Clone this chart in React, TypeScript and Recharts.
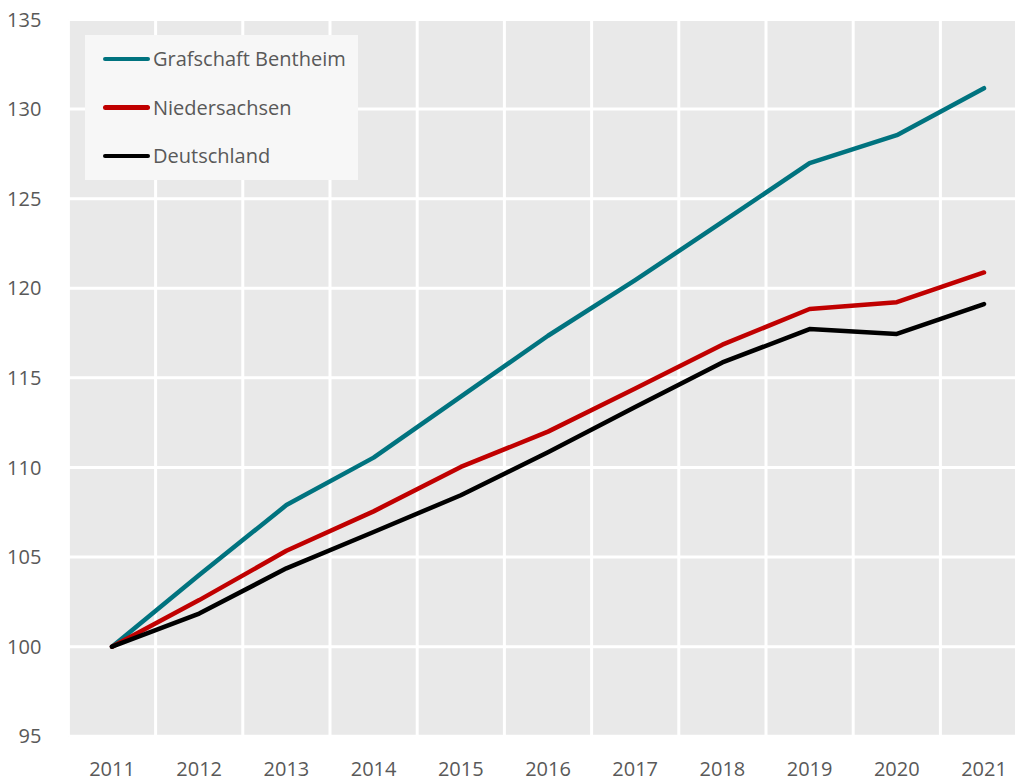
import React from "react";
import { LineChart, Line, XAxis, YAxis, CartesianGrid, Legend } from "recharts";

const years = [2011, 2012, 2013, 2014, 2015, 2016, 2017, 2018, 2019, 2020, 2021];
const grafschaftBentheim = [100, 104.0, 107.9, 110.55, 113.95, 117.35, 120.45, 123.7, 126.98, 128.54, 131.16];
const niedersachsen = [100, 102.6, 105.35, 107.55, 110.03, 112.0, 114.4, 116.85, 118.84, 119.22, 120.88];
const deutschland = [100, 101.85, 104.37, 106.4, 108.45, 110.85, 113.38, 115.86, 117.72, 117.45, 119.12];
const yTicks = [95, 100, 105, 110, 115, 120, 125, 130, 135];
const gridBoundaries = [2010.5, 2011.5, 2012.5, 2013.5, 2014.5, 2015.5, 2016.5, 2017.5, 2018.5, 2019.5, 2020.5, 2021.5];

const seriesNames = ["Grafschaft Bentheim", "Niedersachsen", "Deutschland"];
const seriesColors = ["#00737f", "#c00000", "#000000"];

const data = years.map((y, i) => ({
  year: y,
  gb: grafschaftBentheim[i],
  ni: niedersachsen[i],
  de: deutschland[i],
}));

const FONT = "'Open Sans', 'Noto Sans', sans-serif";
const TEXT = "#595959";

const LegendBox = (props: any) => {
  const payload = (props.payload || [])
    .filter((p: any) => p.type !== "none")
    .slice()
    .sort((a: any, b: any) => seriesNames.indexOf(a.value) - seriesNames.indexOf(b.value));
  return (
    <div
      style={{
        width: 273,
        height: 145,
        background: "#f7f7f7",
        boxSizing: "border-box",
        paddingTop: 0,
        fontFamily: FONT,
      }}
    >
      {payload.map((p: any, i: number) => (
        <div key={i} style={{ position: "absolute", left: 0, top: 24 + i * 48.5 - 12, height: 24, display: "flex", alignItems: "center" }}>
          <div style={{ width: 18 }} />
          <div style={{ width: 47, height: 4.5, borderRadius: 3, background: p.color }} />
          <div style={{ marginLeft: 3, fontSize: 20, color: TEXT, lineHeight: "24px", whiteSpace: "nowrap" }}>{p.value}</div>
        </div>
      ))}
    </div>
  );
};

export default function App() {
  return (
    <div style={{ position: "absolute", left: 0, top: 0, width: 1015, height: 780, overflow: "hidden", background: "#fff" }}>
      <LineChart
        width={1040}
        height={780}
        data={data}
        margin={{ top: 19.4, right: 12.4, bottom: 0, left: 0 }}
      >
        <CartesianGrid
          xAxisId="grid"
          fill="#e9e9e9"
          fillOpacity={1}
          stroke="#ffffff"
          strokeWidth={3}
          horizontal={true}
          vertical={true}
        />
        <XAxis
          xAxisId="grid"
          type="number"
          dataKey="year"
          domain={[2010.5, 2021.5]}
          ticks={gridBoundaries}
          hide
        />
        <XAxis
          dataKey="year"
          type="number"
          domain={[2010.5, 2021.5]}
          ticks={years}
          interval={0}
          height={43.7}
          axisLine={false}
          tickLine={false}
          tick={{ fill: TEXT, fontSize: 20, fontFamily: FONT }}
          tickMargin={19}
        />
        <YAxis
          domain={[95, 135]}
          ticks={yTicks}
          interval={0}
          width={68.4}
          axisLine={false}
          tickLine={false}
          tick={{ fill: TEXT, fontSize: 20, fontFamily: FONT }}
          tickMargin={21}
        />
        <Legend
          content={<LegendBox />}
          layout="horizontal"
          verticalAlign="middle"
          align="center"
          wrapperStyle={{ position: "absolute", left: 85, top: 35, width: 273, height: 145 }}
        />
        <Line type="linear" dataKey="gb" name={seriesNames[0]} stroke={seriesColors[0]} strokeWidth={4.5} dot={false} isAnimationActive={false} strokeLinecap="round" strokeLinejoin="round" />
        <Line type="linear" dataKey="ni" name={seriesNames[1]} stroke={seriesColors[1]} strokeWidth={4.5} dot={false} isAnimationActive={false} strokeLinecap="round" strokeLinejoin="round" />
        <Line type="linear" dataKey="de" name={seriesNames[2]} stroke={seriesColors[2]} strokeWidth={4.5} dot={false} isAnimationActive={false} strokeLinecap="round" strokeLinejoin="round" />
      </LineChart>
    </div>
  );
}
